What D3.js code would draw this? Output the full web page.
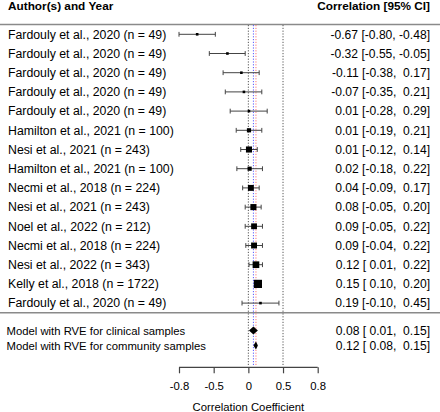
<!DOCTYPE html>
<html>
<head>
<meta charset="utf-8">
<script src="https://cdn.jsdelivr.net/npm/d3@7"></script>
<style>
html,body{margin:0;padding:0;background:#fff;}
svg{display:block;font-family:"Liberation Sans",Arial,sans-serif;}
text{white-space:pre;}
</style>
</head>
<body>
<svg id="chart" width="440" height="412"></svg>
<script>
// ---- data ----
const studies = [
  "Fardouly et al., 2020 (n = 49)",
  "Fardouly et al., 2020 (n = 49)",
  "Fardouly et al., 2020 (n = 49)",
  "Fardouly et al., 2020 (n = 49)",
  "Fardouly et al., 2020 (n = 49)",
  "Hamilton et al., 2021 (n = 100)",
  "Nesi et al., 2021 (n = 243)",
  "Hamilton et al., 2021 (n = 100)",
  "Necmi et al., 2018 (n = 224)",
  "Nesi et al., 2021 (n = 243)",
  "Noel et al., 2022 (n = 212)",
  "Necmi et al., 2018 (n = 224)",
  "Nesi et al., 2022 (n = 343)",
  "Kelly et al., 2018 (n = 1722)",
  "Fardouly et al., 2020 (n = 49)"
];
const sampleN = [49, 49, 49, 49, 49, 100, 243, 100, 224, 243, 212, 224, 343, 1722, 49];
const estimate = [-0.67, -0.32, -0.11, -0.07, 0.01, 0.01, 0.01, 0.02, 0.04, 0.08, 0.09, 0.09, 0.12, 0.15, 0.19];
const ciLower  = [-0.80, -0.55, -0.38, -0.35, -0.28, -0.19, -0.12, -0.18, -0.09, -0.05, -0.05, -0.04, 0.01, 0.10, -0.10];
const ciUpper  = [-0.48, -0.05, 0.17, 0.21, 0.29, 0.21, 0.14, 0.22, 0.17, 0.20, 0.22, 0.22, 0.22, 0.20, 0.45];

const models = ["Model with RVE for clinical samples", "Model with RVE for community samples"];
const modelEstimate = [0.08, 0.12];
const modelLower = [0.01, 0.08];
const modelUpper = [0.15, 0.15];

const tickValues = [-0.8, -0.5, 0, 0.5, 0.8];
const tickLabels = ["-0.8", "-0.5", "0", "0.5", "0.8"];
const refLines = [0, 0.5];

const headerLeft = "Author(s) and Year";
const headerRight = "Correlation [95% CI]";
const axisTitle = "Correlation Coefficient";

// ---- drawing ----
const svg = d3.select("#chart");
const FS_LABEL = 12.3, FS_CI = 12.1, FS_HEAD = 11.8, FS_AXIS = 11.3, FS_MODEL = 11.3;
const fz = r => Math.atanh(r);
const x = d3.scaleLinear().domain([fz(-0.8), fz(0.8)]).range([179, 317.7]);
const y = d3.scaleLinear().domain([0, studies.length - 1]).range([34.3, 303.1]);
const yModel = d3.scaleLinear().domain([0, 1]).range([330.5, 345.6]);

const weight = n => 1 / (1 / (n - 3) + 0.01);
const sz = d3.scaleLinear()
  .domain(d3.extent(sampleN.map(weight)))
  .range([2.6, 8.2]);

const f2 = v => (v < 0 ? "-" : " ") + Math.abs(v).toFixed(2);
const fmt = (e, l, u) => f2(e).trim() + " [" + f2(l) + ", " + f2(u) + "]";

// headers
svg.append("text").attr("x", 8).attr("y", 10).attr("font-size", FS_HEAD).attr("font-weight", "bold").text(headerLeft);
svg.append("text").attr("x", 430).attr("y", 10).attr("text-anchor", "end").attr("font-size", FS_HEAD).attr("font-weight", "bold").text(headerRight);

// horizontal rules
[24.5, 312.7].forEach(yy => {
  svg.append("line").attr("x1", 0).attr("x2", 440).attr("y1", yy).attr("y2", yy)
    .attr("stroke", "#8a8a8a").attr("stroke-width", 1.4);
});

// vertical reference lines
refLines.forEach(r => {
  svg.append("line").attr("x1", x(fz(r))).attr("x2", x(fz(r))).attr("y1", 25).attr("y2", 365)
    .attr("stroke", "#555").attr("stroke-width", 1).attr("stroke-dasharray", "1.2,1.6");
});
svg.append("line").attr("x1", x(fz(modelEstimate[0]))).attr("x2", x(fz(modelEstimate[0]))).attr("y1", 25).attr("y2", 365)
  .attr("stroke", "#5a5aff").attr("stroke-width", 1).attr("stroke-dasharray", "1.2,1.6");
svg.append("line").attr("x1", x(fz(modelEstimate[1]))).attr("x2", x(fz(modelEstimate[1]))).attr("y1", 25).attr("y2", 365)
  .attr("stroke", "#ff7a7a").attr("stroke-width", 1).attr("stroke-dasharray", "1.2,1.6");

// study rows
const rows = svg.append("g").selectAll("g").data(studies).join("g");
rows.append("text").attr("x", 8).attr("y", (d, i) => y(i) + 4.3).attr("font-size", FS_LABEL).text(d => d);
rows.append("text").attr("x", 430).attr("y", (d, i) => y(i) + 4.3).attr("font-size", FS_CI)
  .attr("text-anchor", "end").text((d, i) => fmt(estimate[i], ciLower[i], ciUpper[i]));
rows.append("line")
  .attr("x1", (d, i) => x(fz(ciLower[i]))).attr("x2", (d, i) => x(fz(ciUpper[i])))
  .attr("y1", (d, i) => y(i)).attr("y2", (d, i) => y(i))
  .attr("stroke", "#444").attr("stroke-width", 1);
rows.append("line")
  .attr("x1", (d, i) => x(fz(ciLower[i]))).attr("x2", (d, i) => x(fz(ciLower[i])))
  .attr("y1", (d, i) => y(i) - 2.4).attr("y2", (d, i) => y(i) + 2.4)
  .attr("stroke", "#444").attr("stroke-width", 1);
rows.append("line")
  .attr("x1", (d, i) => x(fz(ciUpper[i]))).attr("x2", (d, i) => x(fz(ciUpper[i])))
  .attr("y1", (d, i) => y(i) - 2.4).attr("y2", (d, i) => y(i) + 2.4)
  .attr("stroke", "#444").attr("stroke-width", 1);
rows.append("rect")
  .attr("x", (d, i) => x(fz(estimate[i])) - sz(weight(sampleN[i])) / 2)
  .attr("y", (d, i) => y(i) - sz(weight(sampleN[i])) / 2)
  .attr("width", (d, i) => sz(weight(sampleN[i])))
  .attr("height", (d, i) => sz(weight(sampleN[i])))
  .attr("fill", "#000");

// model rows
const mrows = svg.append("g").selectAll("g").data(models).join("g");
mrows.append("text").attr("x", 6.5).attr("y", (d, i) => yModel(i) + 4).attr("font-size", FS_MODEL).text(d => d);
mrows.append("text").attr("x", 430).attr("y", (d, i) => yModel(i) + 4.3).attr("font-size", FS_CI)
  .attr("text-anchor", "end").text((d, i) => fmt(modelEstimate[i], modelLower[i], modelUpper[i]));
mrows.append("polygon")
  .attr("points", (d, i) => {
    const yy = yModel(i), h = 4;
    return [[x(fz(modelLower[i])), yy], [x(fz(modelEstimate[i])), yy - h],
            [x(fz(modelUpper[i])), yy], [x(fz(modelEstimate[i])), yy + h]].map(p => p.join(",")).join(" ");
  })
  .attr("fill", "#000");

// axis
const axis = d3.axisBottom(x)
  .tickValues(tickValues.map(fz))
  .tickFormat((d, i) => tickLabels[i])
  .tickSize(6).tickPadding(9);
const ax = svg.append("g").attr("transform", "translate(0,367.3)").call(axis);
ax.select(".domain").attr("stroke", "#444").attr("stroke-width", 1.2).attr("d", `M${x.range()[0]},0H${x.range()[1]}`);
ax.selectAll(".tick line").attr("stroke", "#444").attr("stroke-width", 1.2);
ax.selectAll(".tick text").attr("font-size", FS_AXIS).attr("font-family", "Liberation Sans, Arial, sans-serif").attr("fill", "#000");

svg.append("text").attr("x", x(0)).attr("y", 411).attr("text-anchor", "middle").attr("font-size", FS_AXIS).text(axisTitle);
</script>
</body>
</html>
